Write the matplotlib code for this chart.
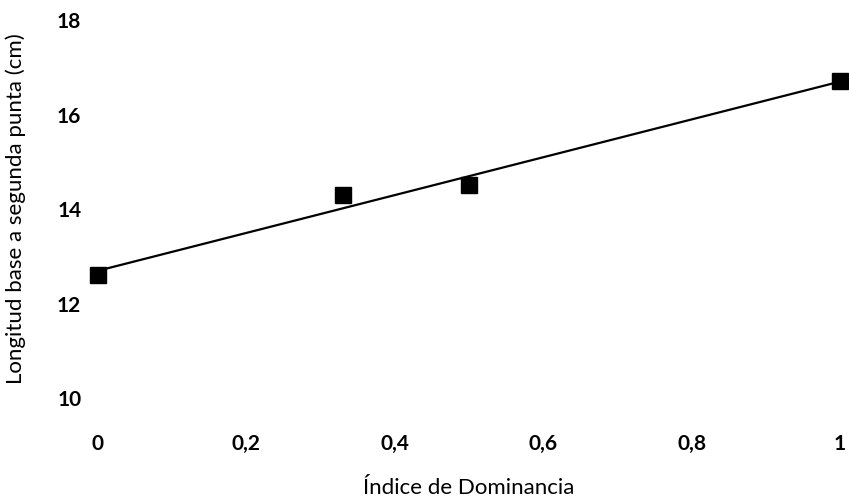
import numpy as np
import matplotlib
matplotlib.use("Agg")
import matplotlib.pyplot as plt

# data
indice = [0, 0.33, 0.5, 1]
longitud = [12.6, 14.3, 14.5, 16.7]

x_ticks = [0, 0.2, 0.4, 0.6, 0.8, 1]
x_labels = ['0', '0,2', '0,4', '0,6', '0,8', '1']
y_ticks = [10, 12, 14, 16, 18]
y_labels = ['10', '12', '14', '16', '18']

plt.rcParams['font.family'] = ['Lato', 'DejaVu Sans']

fig = plt.figure(figsize=(8.49, 5.03), dpi=100)
ax = fig.add_axes([0.1154, 0.2087, 0.874, 0.7515])

# linear trend line
slope, intercept = np.polyfit(indice, longitud, 1)
xx = np.array([0, 1])
ax.plot(xx, slope*xx + intercept, color='black', linewidth=1.6, zorder=2,
        clip_on=False)

ax.plot(indice, longitud, 's', color='black', markersize=12, zorder=3,
        clip_on=False)

ax.set_xlim(0, 1)
ax.set_ylim(10, 18)
ax.set_xticks(x_ticks)
ax.set_xticklabels(x_labels, fontsize=15, fontweight='bold')
ax.set_yticks(y_ticks)
ax.set_yticklabels(y_labels, fontsize=15, fontweight='bold')
ax.tick_params(axis='x', length=0, pad=26)
ax.tick_params(axis='y', length=0, pad=12)

for s in ax.spines.values():
    s.set_visible(False)

ax.set_xlabel('Índice de Dominancia', fontsize=16)
ax.xaxis.set_label_coords(0.5, -0.212)
ax.set_ylabel('Longitud base a segunda punta (cm)', fontsize=16)
ax.yaxis.set_label_coords(-0.097, 0.5)

fig.savefig('out.png', dpi=100)
